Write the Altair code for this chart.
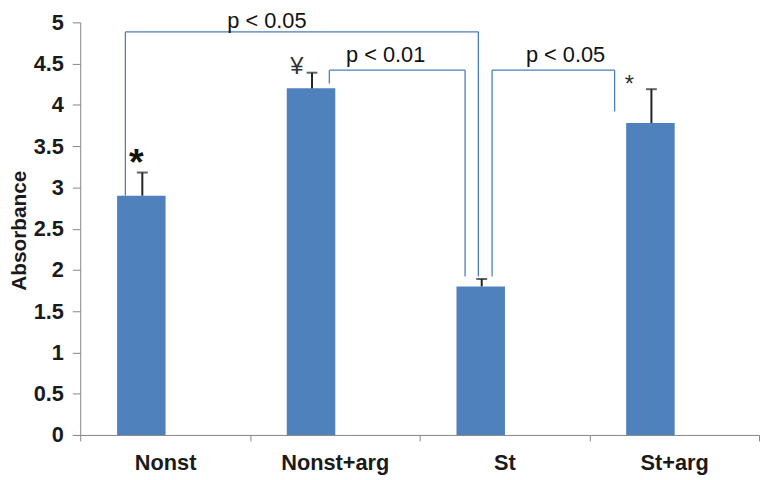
import altair as alt
import pandas as pd

# ---- data ----
groups = ["Nonst", "Nonst+arg", "St", "St+arg"]
absorbance = [2.9, 4.2, 1.8, 3.78]
sem = [0.28, 0.19, 0.09, 0.41]

# significance brackets (x in category units across the 4 groups, y in absorbance)
br_left = [0.266, 1.468, 2.427]
br_right = [2.346, 2.268, 3.149]
br_top = [4.885, 4.42, 4.42]
br_left_end = [2.90, 4.26, 1.92]
br_right_end = [1.92, 1.92, 3.92]
p_labels = ["p < 0.05", "p < 0.01", "p < 0.05"]
p_x = [1.10, 1.80, 2.86]
p_y = [4.935, 4.52, 4.52]

# marker symbols above bars
sym_bold = ["*"]
sym_bold_x = [0.33]
sym_bold_y = [3.15]
sym_reg = ["¥", "*"]
sym_reg_x = [1.277, 3.236]
sym_reg_y = [4.38, 4.16]

FONT = "Liberation Sans"
BLUE = "#4f81bd"
LINE = "#4a7ebb"
AXIS_GRAY = "#868686"

df = pd.DataFrame({"group": groups, "absorbance": absorbance, "sem": sem})
df["hi"] = df["absorbance"] + df["sem"]

segs = []
for l, r, t, le, re in zip(br_left, br_right, br_top, br_left_end, br_right_end):
    segs.append({"x": l, "x2": l, "y": le, "y2": t})
    segs.append({"x": l, "x2": r, "y": t, "y2": t})
    segs.append({"x": r, "x2": r, "y": re, "y2": t})
seg_df = pd.DataFrame(segs)
p_df = pd.DataFrame({"label": p_labels, "x": p_x, "y": p_y})
sb_df = pd.DataFrame({"label": sym_bold, "x": sym_bold_x, "y": sym_bold_y})
sr_df = pd.DataFrame({"label": sym_reg, "x": sym_reg_x, "y": sym_reg_y})

xband = alt.Scale(domain=groups, paddingInner=0, paddingOuter=0)
yscale = alt.Scale(domain=[0, 5], nice=False)
xq = alt.Scale(domain=[0, 4], nice=False, zero=False)

yaxis = alt.Axis(title="Absorbance", values=[0, 0.5, 1, 1.5, 2, 2.5, 3, 3.5, 4, 4.5, 5],
                 labelExpr="datum.value", labelFont=FONT, labelFontSize=22,
                 labelFontWeight="bold", labelColor="#1a1a1a", labelPadding=9,
                 tickSize=8, tickColor=AXIS_GRAY, domainColor=AXIS_GRAY, grid=False,
                 titleFont=FONT, titleFontSize=21, titleFontWeight="bold",
                 titleColor="#1a1a1a", titleX=-51, titleY=210)


def Y(field):
    return alt.Y(field, scale=yscale, axis=yaxis, title="Absorbance")


bars = alt.Chart(df).mark_bar(size=49, xOffset=-24, color=BLUE).encode(
    x=alt.X("group:N", sort=groups, scale=xband,
            axis=alt.Axis(title=None, labelAngle=0, tickBand="extent", tickSize=6,
                          labelFont=FONT, labelFontSize=22, labelFontWeight="bold",
                          labelColor="#1a1a1a", labelPadding=12,
                          domainColor=AXIS_GRAY, tickColor=AXIS_GRAY, grid=False)),
    y=Y("absorbance:Q"),
)

err = alt.Chart(df).mark_rule(xOffset=-23, color="#222222", strokeWidth=2).encode(
    x=alt.X("group:N", sort=groups, scale=xband, axis=None),
    y=Y("absorbance:Q"),
    y2="hi:Q",
)
cap = alt.Chart(df).mark_tick(xOffset=-23, color="#222222", size=11, thickness=2).encode(
    x=alt.X("group:N", sort=groups, scale=xband, axis=None),
    y=Y("hi:Q"),
)

brackets = alt.Chart(seg_df).mark_rule(color=LINE, strokeWidth=1.3).encode(
    x=alt.X("x:Q", scale=xq, axis=None), x2="x2:Q",
    y=Y("y:Q"), y2="y2:Q",
)
ptext = alt.Chart(p_df).mark_text(font=FONT, fontSize=22, color="#111111",
                                  align="center", baseline="alphabetic").encode(
    x=alt.X("x:Q", scale=xq, axis=None),
    y=Y("y:Q"),
    text="label:N",
)
sbold = alt.Chart(sb_df).mark_text(font=FONT, fontSize=38, fontWeight="bold", color="#111111",
                                   align="center", baseline="alphabetic").encode(
    x=alt.X("x:Q", scale=xq, axis=None),
    y=Y("y:Q"),
    text="label:N",
)
sreg = alt.Chart(sr_df).mark_text(font=FONT, fontSize=24, color="#333333",
                                  align="center", baseline="alphabetic").encode(
    x=alt.X("x:Q", scale=xq, axis=None),
    y=Y("y:Q"),
    text="label:N",
)

chart = alt.layer(bars, err, cap, brackets, ptext, sbold, sreg).resolve_scale(
    x="independent"
).properties(
    width=686, height=417,
    autosize=alt.AutoSizeParams(type="none"),
    padding={"left": 73, "top": 12, "right": 2, "bottom": 43},
    background="white",
).configure_view(stroke=None)

chart.save("out.html", embed_options={"renderer": "svg", "actions": False})
